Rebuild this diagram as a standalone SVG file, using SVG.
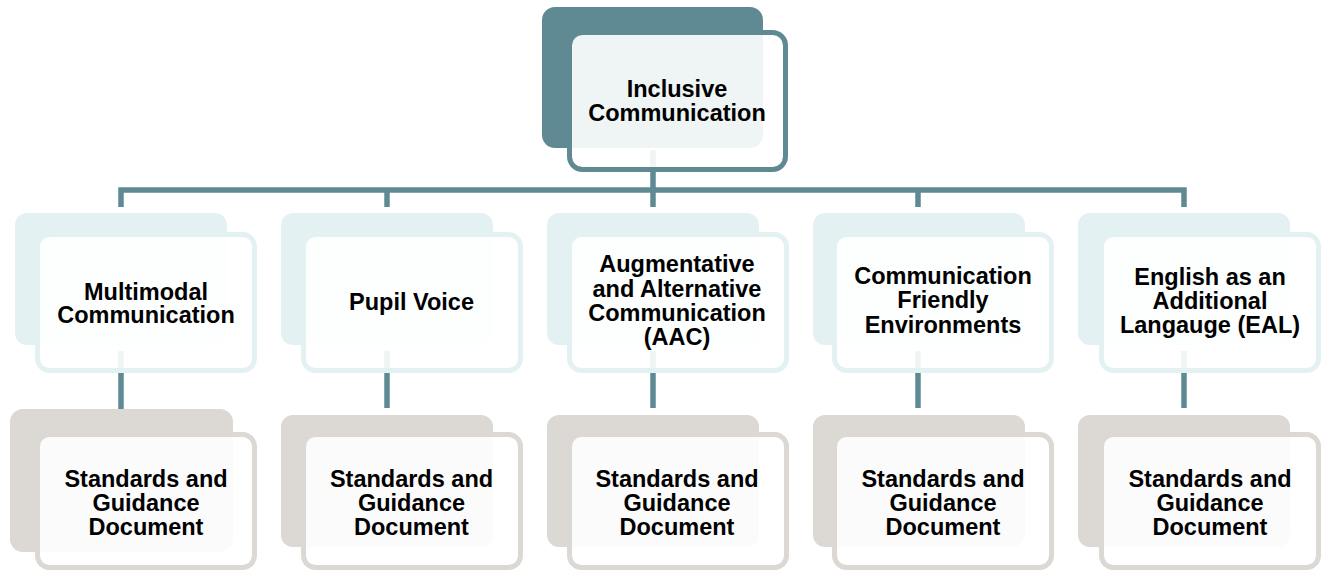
<svg xmlns="http://www.w3.org/2000/svg" width="1324" height="571" viewBox="0 0 1324 571">
<style>
.conn{fill:none;stroke:#5f8a93;stroke-width:5.5;stroke-linejoin:miter}
.bk0{fill:#5f8a93}
.bk1{fill:#e4f1f3}
.bk2{fill:#dcd8d3}
.fr{fill:#ffffff;fill-opacity:0.9;stroke-width:5}
.fr0{stroke:#5f8a93}
.fr1{stroke:#e4f1f3}
.fr2{stroke:#dcd8d3}
text{font-family:"Liberation Sans",Arial,sans-serif;font-weight:bold;font-size:23.5px;fill:#000;text-anchor:middle}
</style>
<rect width="1324" height="571" fill="#ffffff"/>
<g id="connectors">
<path class="conn" d="M653,150 V190"/>
<path class="conn" d="M121,207 V190 H1184 V207"/>
<path class="conn" d="M387,190 V207"/>
<path class="conn" d="M653,190 V207"/>
<path class="conn" d="M918,190 V207"/>
<path class="conn" d="M121,351 V409"/>
<path class="conn" d="M387,351 V408"/>
<path class="conn" d="M653,351 V408"/>
<path class="conn" d="M918,351 V408"/>
<path class="conn" d="M1184,351 V408"/>
</g>
<g id="node-root">
<rect class="bk0" x="542" y="7" width="221" height="141" rx="13"/>
<rect class="fr fr0" x="569.5" y="32.5" width="216" height="137" rx="13"/>
<text x="677" y="96.5">Inclusive</text>
<text x="677" y="120.5">Communication</text>
</g>
<g id="node-multimodal">
<rect class="bk1" x="15" y="213" width="212" height="132" rx="12"/>
<rect class="fr fr1" x="37.5" y="234.5" width="217" height="136" rx="12"/>
<text x="146" y="299.5">Multimodal</text>
<text x="146" y="323">Communication</text>
</g>
<g id="node-pupil">
<rect class="bk1" x="281" y="213" width="212" height="132" rx="12"/>
<rect class="fr fr1" x="303.5" y="234.5" width="217" height="136" rx="12"/>
<text x="411.5" y="310">Pupil Voice</text>
</g>
<g id="node-aac">
<rect class="bk1" x="547" y="213" width="212" height="132" rx="12"/>
<rect class="fr fr1" x="569.5" y="234.5" width="217" height="136" rx="12"/>
<text x="677" y="272">Augmentative</text>
<text x="677" y="296.5">and Alternative</text>
<text x="677" y="320.5">Communication</text>
<text x="677" y="344.5">(AAC)</text>
</g>
<g id="node-cfe">
<rect class="bk1" x="813" y="213" width="212" height="132" rx="12"/>
<rect class="fr fr1" x="834.5" y="234.5" width="217" height="136" rx="12"/>
<text x="943" y="283.5">Communication</text>
<text x="943" y="308">Friendly</text>
<text x="943" y="332.5">Environments</text>
</g>
<g id="node-eal">
<rect class="bk1" x="1078" y="213" width="212" height="132" rx="12"/>
<rect class="fr fr1" x="1101.5" y="234.5" width="217" height="136" rx="12"/>
<text x="1210" y="285">English as an</text>
<text x="1210" y="308.5">Additional</text>
<text x="1210" y="333">Langauge (EAL)</text>
</g>
<g id="node-sg1">
<rect class="bk2" x="10" y="409" width="223" height="143" rx="13"/>
<rect class="fr fr2" x="37.5" y="434.5" width="217" height="133" rx="12"/>
<text x="146" y="487">Standards and</text>
<text x="146" y="511">Guidance</text>
<text x="146" y="535">Document</text>
</g>
<g id="node-sg2">
<rect class="bk2" x="281" y="415" width="212" height="132" rx="12"/>
<rect class="fr fr2" x="303.5" y="434.5" width="217" height="133" rx="12"/>
<text x="411.5" y="487">Standards and</text>
<text x="411.5" y="511">Guidance</text>
<text x="411.5" y="535">Document</text>
</g>
<g id="node-sg3">
<rect class="bk2" x="547" y="415" width="212" height="132" rx="12"/>
<rect class="fr fr2" x="569.5" y="434.5" width="217" height="133" rx="12"/>
<text x="677" y="487">Standards and</text>
<text x="677" y="511">Guidance</text>
<text x="677" y="535">Document</text>
</g>
<g id="node-sg4">
<rect class="bk2" x="813" y="415" width="212" height="132" rx="12"/>
<rect class="fr fr2" x="834.5" y="434.5" width="217" height="133" rx="12"/>
<text x="943" y="487">Standards and</text>
<text x="943" y="511">Guidance</text>
<text x="943" y="535">Document</text>
</g>
<g id="node-sg5">
<rect class="bk2" x="1078" y="415" width="212" height="132" rx="12"/>
<rect class="fr fr2" x="1101.5" y="434.5" width="217" height="133" rx="12"/>
<text x="1210" y="487">Standards and</text>
<text x="1210" y="511">Guidance</text>
<text x="1210" y="535">Document</text>
</g>
</svg>
